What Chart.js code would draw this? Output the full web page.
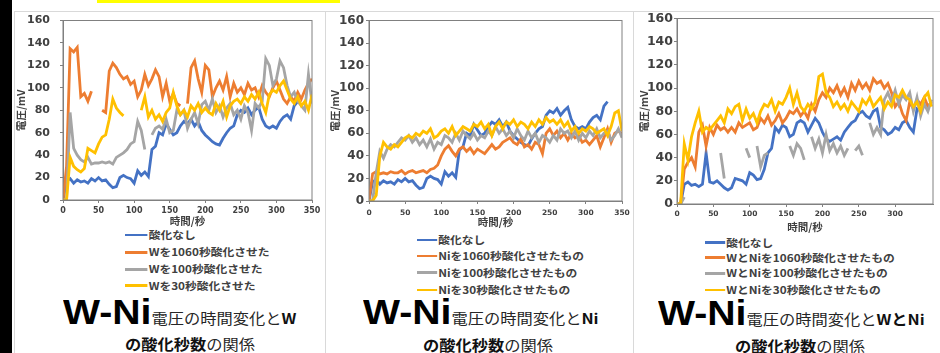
<!DOCTYPE html>
<html>
<head>
<meta charset="utf-8">
<script src="https://cdn.jsdelivr.net/npm/chart.js@4/dist/chart.umd.min.js"></script>
<style>
  body { margin: 0; width: 940px; height: 353px; position: relative; overflow: hidden; background: #fff; }
  .strip { position: absolute; left: 0; top: 0; width: 12px; height: 353px; background: #000; }
  .mark { position: absolute; left: 97px; top: 0; width: 243px; height: 3px; background: #ff0; }
  .panel { position: absolute; top: 11px; height: 360px; border: 1px solid #d9d9d9; border-bottom: none; box-sizing: border-box; }
  canvas { position: absolute; }
  .lg { position: absolute; display: flex; align-items: center; height: 12px; white-space: nowrap;
        transform: scaleX(1.12); transform-origin: 0 50%;
        font: bold 10.5px 'Noto Sans CJK JP', sans-serif; color: #404040; line-height: 12px; }
  .lg i { display: block; height: 2.5px; margin-right: 1px; }
  .t1 { position: absolute; white-space: nowrap; line-height: 1; transform: scaleX(1.12); transform-origin: 0 50%;
        font: bold 35px 'Liberation Sans', Arial, sans-serif; color: #000; }
  .t1 span { font: 400 14.5px 'Noto Sans CJK JP', sans-serif; line-height: 1; color: #262626; }
  .t1 b { font: bold 14.5px 'Noto Sans CJK JP', sans-serif; line-height: 1; color: #111; }
  .t2 { position: absolute; white-space: nowrap; line-height: 1; transform: scaleX(1.12); transform-origin: 0 50%;
        font: 400 14.5px 'Noto Sans CJK JP', sans-serif; color: #262626; }
  .t2 b { font-weight: bold; color: #111; }
</style>
</head>
<body>
<div class="strip"></div>
<div class="mark"></div>
<div class="panel" style="left:14px;width:312px"></div>
<div class="panel" style="left:325px;width:309px"></div>
<div class="panel" style="left:633px;width:310px"></div>

<canvas id="c1" width="310" height="215" style="left:15px;top:12px;width:310px;height:215px"></canvas>
<canvas id="c2" width="306" height="216" style="left:326px;top:12px;width:306px;height:216px"></canvas>
<canvas id="c3" width="306" height="222" style="left:634px;top:11px;width:306px;height:222px"></canvas>

<div id="legends"></div>

<div class="t1" style="left:63px;top:292px">W-Ni<span>電圧の時間変化と</span><b>W</b></div>
<div class="t2" style="left:125px;top:333px"><b>の酸化秒数</b>の関係</div>
<div class="t1" style="left:363px;top:292px">W-Ni<span>電圧の時間変化と</span><b>Ni</b></div>
<div class="t2" style="left:423px;top:334px"><b>の酸化秒数</b>の関係</div>
<div class="t1" style="left:658px;top:293px">W-Ni<span>電圧の時間変化と</span><b>WとNi</b></div>
<div class="t2" style="left:735px;top:335px"><b>の酸化秒数</b>の関係</div>

<script>
// time axis (seconds), one reading every 5 s
const times = [
  0, 5, 10, 15, 20, 25, 30, 35, 40, 45,
  50, 55, 60, 65, 70, 75, 80, 85, 90, 95,
  100, 105, 110, 115, 120, 125, 130, 135, 140, 145,
  150, 155, 160, 165, 170, 175, 180, 185, 190, 195,
  200, 205, 210, 215, 220, 225, 230, 235, 240, 245,
  250, 255, 260, 265, 270, 275, 280, 285, 290, 295,
  300, 305, 310, 315, 320, 325, 330, 335, 340, 345,
  350
];
const yTicks = [0, 20, 40, 60, 80, 100, 120, 140, 160];
const xTicksAB = [0, 50, 100, 150, 200, 250, 300, 350];
const xTicksC = [0, 50, 100, 150, 200, 250, 300];

// 酸化なし (panels 1 and 2)
const noOxideA = [
  0, 17, 19, 15, 18, 16, 17, 15, 19, 17,
  20, 17, 18, 14, 11, 12, 20, 22, 20, 19,
  15, 26, 22, 25, 21, 45, 48, 60, 58, 68,
  63, 58, 60, 66, 70, 68, 72, 66, 70, 62,
  58, 55, 52, 50, 49, 55, 60, 64, 66, 76,
  80, 78, 82, 76, 80, 83, 72, 66, 64, 66,
  64, 70, 74, 76, 72, 84, 88, null, null, null,
  null
];
// panel 1: W oxidised
const w1060 = [
  0, 30, 135, 132, 136, 92, 95, 88, 97, null,
  null, 80, 78, 115, 122, 118, 112, 108, 110, 103,
  106, 92, 98, 112, 102, 108, 116, 110, 92, 104,
  88, 95, 86, 84, null, 86, 118, 124, 108, 96,
  120, 116, 92, 100, 106, 98, 110, 92, 104, 96,
  100, 94, 104, 98, 100, 92, 102, 96, 92, 100,
  106, 98, 90, 86, 92, 88, 96, 90, 98, 104,
  108
];
const w100 = [
  0, 0, 78, 46, 40, 36, 34, 38, 32, 33,
  33, 34, 33, 34, 32, 38, 40, 42, 45, 50,
  52, 70, 62, 45, null, 58, 64, 66, 63, 72,
  60, 62, 80, 76, 80, 64, 72, 78, 68, 85,
  88, 80, 90, 78, 84, 74, 82, 86, 76, 80,
  72, 84, 78, 62, 86, 82, 88, 126, 120, 102,
  108, 124, 118, 102, 92, 96, 88, 84, 80, 112,
  86
];
const w30 = [
  0, 0, 38, 30, 27, 25, 28, 46, 44, 42,
  50, 56, 58, 72, 90, 82, 78, 75, null, null,
  null, null, 80, 92, 74, 80, 72, 76, 70, 78,
  82, 96, 84, 76, 80, 74, 84, 80, 86, 78,
  82, 78, 76, 86, 80, 88, 74, 84, 88, 90,
  86, 92, 88, 94, 90, 96, 86, 78, 94, 98,
  96, 102, 106, 98, 90, 86, 92, 84, 88, 80,
  94
];
// panel 2: Ni oxidised
const ni1060 = [
  0, 24, 26, 24, 25, 24, 26, 25, 25, 27,
  24, 26, 27, 25, 26, 27, 25, 28, 29, 32,
  40, 46, 49, 44, 40, 46, 48, 44, 47, 42,
  46, 44, 42, 46, 50, 46, 48, 52, 54, 56,
  52, 50, 55, 48, 50, 46, 52, 50, 42, 60,
  64, 58, 62, 56, 60, 54, 60, 56, 58, 52,
  54, 50, 54, 58, 48, 56, 64, 52, 60, 62,
  60
];
const ni100 = [
  0, 0, 25, 44, 38, 46, 50, 48, 52, 56,
  54, 58, 52, 56, 50, 54, 48, 55, 46, 52,
  50, 58, 56, 52, 60, 54, 62, 58, 55, 60,
  54, 58, 56, 62, 58, 66, 60, 64, 58, 62,
  56, 64, 58, 54, 62, 56, 60, 52, 58, 56,
  52, 58, 54, 64, 60, 62, 56, 62, 54, 60,
  56, 62, 58, 64, 56, 60, 62, 54, 58, 64,
  56
];
const ni30 = [
  0, 0, 5, 40, 52, 48, 46, 50, 48, 52,
  56, 58, 56, 60, 58, 62, 60, 64, 56, 58,
  62, 64, 60, 66, 58, 62, 66, 64, 62, 68,
  66, 70, 64, 68, 58, 66, 70, 64, 70, 68,
  72, 66, 70, 68, 64, 70, 66, 72, 68, 74,
  70, 72, 68, 72, 66, 70, 62, 66, 60, 64,
  62, 66, 64, 60, 62, 64, 58, 66, 78, 80,
  62
];
// panel 3: W and Ni oxidised
const noOxideC = [
  0, 0, 17, 19, 16, 17, 15, 17, 44, 19,
  18, 20, 17, 14, 12, 14, 22, 21, 20, 17,
  27, 25, 21, 22, 30, 44, 48, 66, 62, 68,
  66, 58, 60, 70, 72, 70, 62, 68, 74, 70,
  62, 56, 54, 56, 58, 55, 62, 66, 70, 72,
  78, 80, 76, 74, 80, 82, 66, 64, 60, 62,
  66, 64, 70, 72, 66, 62, 82, 80, 88, null,
  null
];
const wni1060 = [
  0, 0, 30, 36, 40, 32, 62, 68, 50, 66,
  60, 68, 64, 66, 62, 66, 62, 70, 66, 68,
  70, 64, 66, 74, 70, 76, 68, 72, 78, 70,
  74, 80, 78, 82, 76, 80, 74, 86, 80, 90,
  96, 92, 100, 96, 102, 94, 100, 92, 104, 98,
  106, 100, 104, 98, 108, 104, 106, 100, 104, 96,
  84, 88, 78, 72, 88, 82, 90, 86, 92, 84,
  88
];
const wni100 = [
  0, 0, 6, null, null, null, null, null, null, null,
  null, null, 44, 22, null, null, null, null, null, 48,
  40, null, 50, 32, 42, 44, null, null, null, null,
  null, 50, 42, 52, 48, 38, null, 58, 48, 56,
  44, 60, 46, 52, 44, 50, 42, 48, null, 46,
  50, 42, null, 70, 60, 66, 60, 90, 96, 88,
  98, 86, 94, 90, 96, 80, 92, 76, 86, 80,
  90
];
const wni30 = [
  0, 0, 52, 38, 58, 70, 80, 62, 66, 64,
  68, 72, 76, 70, 82, 78, 84, 86, 72, 82,
  74, 78, 70, 80, 86, 84, 90, 80, 88, 86,
  92, 100, 86, 96, 84, 80, 86, 82, 88, 110,
  112, 96, 92, 84, 88, 82, 86, 80, 88, 84,
  80, 90, 86, 92, 84, 88, 92, 82, 88, 84,
  94, 92, 98, 92, 90, 84, 88, 80, 92, 96,
  84
];

const COLORS = ["#4472C4", "#ED7D31", "#A5A5A5", "#FFC000"];
const AXIS = "#808080";
const TEXT = "#404040";

const panels = [
  {
    id: "c1", yWidth: 48, xHeight: 27, padTop: 8.5, padRight: 13,
    xMax: 350, xTicks: xTicksAB, tickSize: 11, xTickSize: 8, yPad: 10, xPad: 2.7, yTitlePad: 0,
    labels: ["酸化なし", "Wを1060秒酸化させた", "Wを100秒酸化させた", "Wを30秒酸化させた"],
    values: [noOxideA, w1060, w100, w30],
    legend: { x: 125, line: 19.6, gap: 1.5, rows: [235, 252.3, 269.3, 285.7] },
  },
  {
    id: "c2", yWidth: 43, xHeight: 27, padTop: 8.5, padRight: 10,
    xMax: 350, xTicks: xTicksAB, tickSize: 12, xTickSize: 7.5, yPad: 2, xPad: 4.6, yTitlePad: 2.7,
    labels: ["酸化なし", "Niを1060秒酸化させたもの", "Niを100秒酸化させたもの", "Niを30秒酸化させたもの"],
    values: [noOxideA, ni1060, ni100, ni30],
    legend: { x: 417, line: 17.9, gap: 1, rows: [240, 256, 272.7, 290] },
  },
  {
    id: "c3", yWidth: 43, xHeight: 29, padTop: 7.5, padRight: 7,
    xMax: 352, xTicks: xTicksC, tickSize: 12.5, xTickSize: 7.5, yPad: 1, xPad: 3, yTitlePad: 4.2,
    labels: ["酸化なし", "WとNiを1060秒酸化させたもの", "WとNiを100秒酸化させたもの", "WとNiを30秒酸化させたもの"],
    values: [noOxideC, wni1060, wni100, wni30],
    legend: { x: 705, line: 17.9, gap: 1, rows: [242.7, 257.7, 273.3, 290] },
  },
];

// Excel-style frame round the plot area
const frame = {
  id: "frame",
  afterDraw(chart) {
    const { ctx, chartArea: a } = chart;
    ctx.save();
    ctx.strokeStyle = AXIS;
    ctx.lineWidth = 1;
    ctx.strokeRect(a.left, a.top, a.right - a.left, a.bottom - a.top);
    ctx.restore();
  },
};

const tickFont = (size) => ({ family: "'DejaVu Sans', sans-serif", size: size, weight: "bold" });
const titleFont = { family: "'Noto Sans CJK JP', sans-serif", size: 10.5, weight: "bold" };

panels.forEach((p) => {
  new Chart(document.getElementById(p.id), {
    type: "line",
    data: {
      datasets: p.values.map((vals, i) => ({
        label: p.labels[i],
        data: times.map((t, j) => ({ x: t, y: vals[j] })),
        borderColor: COLORS[i],
        borderWidth: 2.8,
        pointRadius: 0,
        tension: 0,
        spanGaps: false,
        order: 4 - i,
      })),
    },
    options: {
      responsive: false,
      animation: false,
      events: [],
      layout: { padding: { top: p.padTop, right: p.padRight, left: 0, bottom: 0 } },
      plugins: { legend: { display: false }, tooltip: { enabled: false } },
      scales: {
        x: {
          type: "linear", min: 0, max: p.xMax,
          afterBuildTicks: (s) => { s.ticks = p.xTicks.map((v) => ({ value: v })); },
          afterFit: (s) => { s.height = p.xHeight; s.paddingLeft = 0; s.paddingRight = 0; },
          grid: { display: true, drawOnChartArea: false, drawTicks: true, tickLength: 3, color: AXIS },
          border: { display: true, color: AXIS },
          ticks: { font: tickFont(p.xTickSize), color: TEXT, padding: p.xPad, maxRotation: 0, autoSkip: false },
          title: { display: true, text: "時間/秒", font: titleFont, color: TEXT, padding: 0 },
        },
        y: {
          min: 0, max: 160,
          afterBuildTicks: (s) => { s.ticks = yTicks.map((v) => ({ value: v })); },
          afterFit: (s) => { s.width = p.yWidth; s.paddingTop = 0; s.paddingBottom = 0; },
          grid: { display: true, drawOnChartArea: false, drawTicks: true, tickLength: 3, color: AXIS },
          border: { display: true, color: AXIS },
          ticks: { font: tickFont(p.tickSize), color: TEXT, padding: p.yPad, autoSkip: false },
          title: { display: true, text: "電圧/mV", font: titleFont, color: TEXT, padding: { top: p.yTitlePad, bottom: 0 } },
        },
      },
    },
    plugins: [frame],
  });

  // legend below each chart, one series per row
  const box = document.getElementById("legends");
  p.labels.forEach((name, i) => {
    const row = document.createElement("div");
    row.className = "lg";
    row.style.left = p.legend.x + "px";
    row.style.top = (p.legend.rows[i] - 6) + "px";
    row.innerHTML = '<i style="width:' + p.legend.line + 'px;margin-right:' + p.legend.gap + 'px;background:' + COLORS[i] + '"></i><span>' + name + "</span>";
    box.appendChild(row);
  });
});
</script>
</body>
</html>
